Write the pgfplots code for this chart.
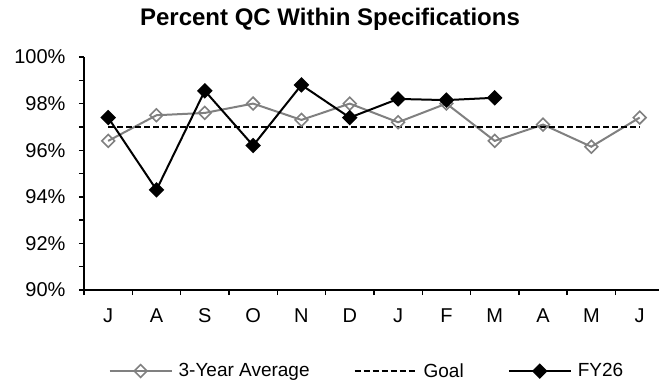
\documentclass[border=0pt]{standalone}
\usepackage{pgfplots}
\pgfplotsset{compat=1.18}
\usepackage{fontspec}
\setmainfont{Liberation Sans}
\definecolor{avggray}{RGB}{128,128,128}

\begin{document}
\begin{tikzpicture}[x=1pt,y=1pt]
\path[use as bounding box] (-84,-93) rectangle (575,290);
\begin{axis}[
  at={(0,0)}, anchor=south west,
  scale only axis, width=575pt, height=233pt,
  xmin=-0.5, xmax=11.4, ymin=90, ymax=100,
  axis lines*=left,
  axis line style={line width=1.6pt, black},
  xtick={0,...,11},
  xticklabels={J,A,S,O,N,D,J,F,M,A,M,J},
  minor xtick={-0.5,0.5,...,11.5},
  major x tick style={draw=none},
  ytick={90,92,...,100},
  yticklabel={\pgfmathprintnumber{\tick}\%},
  minor ytick={91,93,...,99},
  tick align=outside,
  major tick length=5pt, minor tick length=5pt,
  every tick/.style={black, line width=1.4pt},
  tick label style={font=\fontsize{20}{24}\selectfont},
  /pgf/number format/assume math mode=true,
  yticklabel style={xshift=-10pt},
  xticklabel style={yshift=-10pt},
  legend columns=3,
  legend style={draw=none, fill=none, at={(0.492,-0.348)}, anchor=center,
    font=\fontsize{19}{23}\selectfont,
    /tikz/every odd column/.append style={column sep=4pt},
    /tikz/every even column/.append style={column sep=42pt}},
  legend cell align=left,
  legend image code/.code={%
    \draw[mark repeat=2,mark phase=2,#1] plot coordinates {(0pt,0pt) (31pt,0pt) (62pt,0pt)};},
]
\addplot[avggray, line width=2pt, mark=square, mark size=4.5pt,
  mark options={rotate=45, fill=white, draw=avggray, line width=1.6pt, solid}]
  coordinates {(0,96.4)(1,97.5)(2,97.6)(3,98.0)(4,97.3)(5,98.0)(6,97.2)(7,98.0)(8,96.4)(9,97.1)(10,96.15)(11,97.4)};
\addlegendentry{3-Year Average}
\addplot[black, line width=2pt, dash pattern=on 6pt off 3pt]
  coordinates {(0,97)(11,97)};
\addlegendentry{Goal}
\addplot[black, line width=2pt, mark=square*, mark size=4.5pt,
  mark options={rotate=45, solid}]
  coordinates {(0,97.4)(1,94.3)(2,98.55)(3,96.2)(4,98.8)(5,97.4)(6,98.2)(7,98.15)(8,98.25)};
\addlegendentry{FY26}
\end{axis}
\node[font=\bfseries\fontsize{24}{28}\selectfont] at (246,271) {Percent QC Within Specifications};
\end{tikzpicture}
\end{document}
